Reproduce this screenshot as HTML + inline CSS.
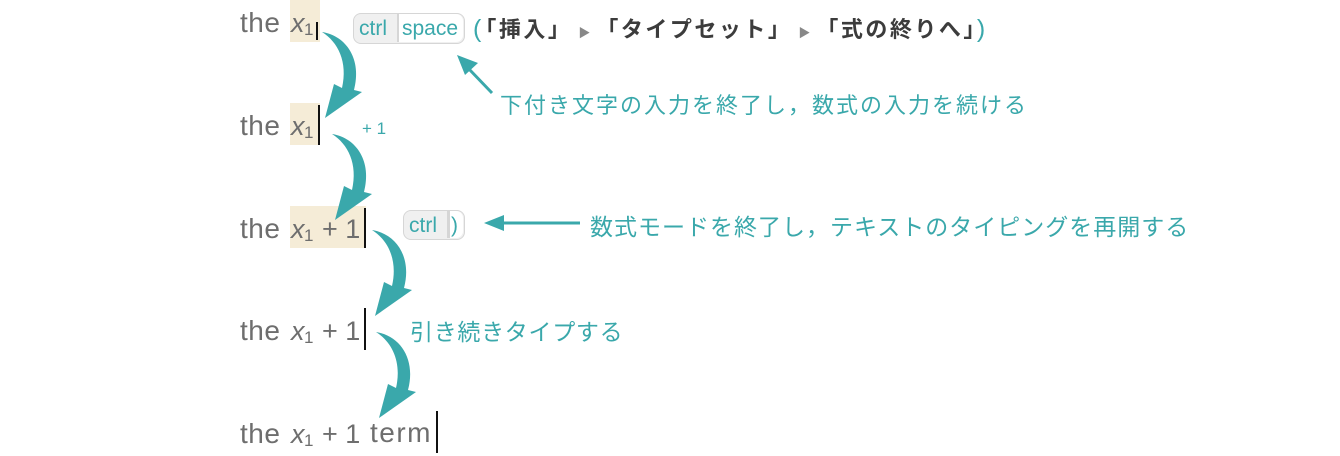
<!DOCTYPE html>
<html><head><meta charset="utf-8"><style>
body{margin:0;width:1340px;height:456px;background:#fff;position:relative;overflow:hidden;font-family:"Liberation Sans","Noto Sans CJK JP",sans-serif}
.a{position:absolute;white-space:nowrap}
.w{position:absolute;white-space:nowrap;font-size:27px;color:#6e6e6e;line-height:30px}
.th{font-size:28px;letter-spacing:0.5px}
.s{position:absolute;font-size:17px;color:#6e6e6e}
.hl{position:absolute;background:#f5ecd7}
.cur{position:absolute;width:2px;background:#111}
.t{color:#3aa8ab;font-size:22px}
.key{position:absolute;border:1.5px solid #d6d6d6;border-radius:8px;background:#f0f0f0;color:#3aa8ab;font-size:21px;line-height:27px;box-sizing:border-box}
.dk{color:#3c3c3c;font-weight:bold;font-size:22px;letter-spacing:2.5px}
.tri{color:#888;font-size:12px;margin:0 6px}
</style></head><body>
<div class="hl" style="left:290px;top:0;width:30px;height:42px"></div>
<div class="hl" style="left:290px;top:103px;width:30px;height:42px"></div>
<div class="hl" style="left:290px;top:206px;width:76px;height:42px"></div>

<div class="w th" style="left:240px;top:8px">the</div><div class="w" style="left:291px;top:8px;font-style:italic">x</div><div class="s" style="left:304px;top:20px">1</div>
<div class="cur" style="left:316px;top:22px;height:18px"></div>
<div class="w th" style="left:240px;top:111px">the</div><div class="w" style="left:291px;top:111px;font-style:italic">x</div><div class="s" style="left:304px;top:123px">1</div>
<div class="cur" style="left:318px;top:105px;height:40px"></div>
<div class="w th" style="left:240px;top:214px">the</div><div class="w" style="left:291px;top:214px;font-style:italic">x</div><div class="s" style="left:304px;top:226px">1</div><div class="w" style="left:322px;top:214px">+ 1</div>
<div class="cur" style="left:364px;top:208px;height:40px"></div>
<div class="w th" style="left:240px;top:316px">the</div><div class="w" style="left:291px;top:316px;font-style:italic">x</div><div class="s" style="left:304px;top:328px">1</div><div class="w" style="left:322px;top:316px">+ 1</div>
<div class="cur" style="left:364px;top:308px;height:42px"></div>
<div class="w th" style="left:240px;top:419px">the</div><div class="w" style="left:291px;top:419px;font-style:italic">x</div><div class="s" style="left:304px;top:431px">1</div><div class="w" style="left:322px;top:419px">+ 1</div><div class="w" style="left:370px;top:418px;font-size:28px;letter-spacing:1.5px">term</div>
<div class="cur" style="left:436px;top:411px;height:42px"></div>

<div class="key" style="left:353px;top:13px;width:112px;height:31px">
<span class="a" style="left:5px;top:1px">ctrl</span>
<span class="a" style="left:43px;top:0;width:2px;height:28px;background:#d6d6d6"></span>
<span class="a" style="left:45px;top:0;width:64px;height:28px;background:#fff;border-radius:0 7px 7px 0"></span>
<span class="a" style="left:48px;top:1px">space</span>
</div>
<div class="a" style="left:473px;top:12px"><span class="t" style="font-size:25px;margin-right:4px">(</span><span class="dk">「挿入」</span><span class="tri">▶</span><span class="dk">「タイプセット」</span><span class="tri">▶</span><span class="dk">「式の終りへ」</span><span class="t" style="font-size:25px">)</span></div>
<div class="a t" style="left:500px;top:88px;letter-spacing:2px">下付き文字の入力を終了し，数式の入力を続ける</div>
<div class="a t" style="left:362px;top:119px;font-size:17px">+ 1</div>

<div class="key" style="left:403px;top:210px;width:62px;height:30px">
<span class="a" style="left:5px;top:1px">ctrl</span>
<span class="a" style="left:43px;top:0;width:3px;height:27px;background:#d6d6d6"></span>
<span class="a" style="left:46px;top:0;width:13px;height:27px;background:#fff;border-radius:0 7px 7px 0"></span>
<span class="a" style="left:47px;top:1px">)</span>
</div>
<div class="a t" style="left:590px;top:208px;font-size:23px;letter-spacing:1px">数式モードを終了し，テキストのタイピングを再開する</div>
<div class="a t" style="left:410px;top:313px;font-size:23px;letter-spacing:0.7px">引き続きタイプする</div>

<svg class="a" style="left:0;top:0" width="1340" height="456">
<defs><path id="arr" d="M0,0 C25,4 40,28 32,58 L40,60 L3,86 L12,52 L20,56 C26,30 16,10 0,0 Z" fill="#3aa8ab"/></defs>
<use href="#arr" x="322" y="32"/>
<use href="#arr" x="332" y="134"/>
<use href="#arr" x="372" y="230"/>
<use href="#arr" x="376" y="332"/>
<line x1="492" y1="93" x2="468" y2="68" stroke="#3aa8ab" stroke-width="3"/>
<polygon points="457,55 478,63 465,75" fill="#3aa8ab"/>
<line x1="580" y1="223" x2="500" y2="223" stroke="#3aa8ab" stroke-width="3"/>
<polygon points="484,223 504,215 504,231" fill="#3aa8ab"/>
</svg>
</body></html>
